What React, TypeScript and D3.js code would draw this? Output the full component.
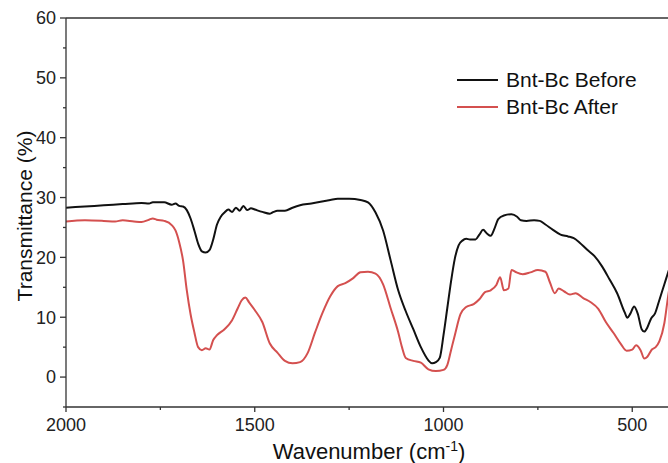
import { useRef, useEffect } from 'react';
import * as d3 from 'd3';

// FTIR spectra, transmittance (%)
const beforeWave = [2000, 1950, 1900, 1850, 1800, 1780, 1770, 1740, 1720, 1710, 1700, 1690, 1680, 1670, 1660, 1650, 1640, 1630, 1620, 1610, 1600, 1590, 1580, 1570, 1560, 1550, 1540, 1530, 1520, 1510, 1500, 1480, 1460, 1450, 1440, 1420, 1400, 1380, 1350, 1300, 1280, 1250, 1220, 1200, 1180, 1160, 1140, 1120, 1100, 1080, 1060, 1040, 1030, 1020, 1010, 1000, 990, 980, 970, 960, 950, 940, 930, 915, 905, 895, 885, 875, 865, 855, 840, 820, 805, 795, 780, 760, 745, 730, 710, 690, 670, 655, 640, 620, 600, 580, 560, 540, 520, 513, 505, 495, 485, 475, 468, 460, 450, 440, 430, 420, 410, 400];
const beforeT = [28.3, 28.5, 28.7, 28.9, 29.1, 29.0, 29.2, 29.2, 28.8, 29.0, 28.6, 28.5, 27.9, 26.5, 24.5, 22.3, 21.0, 20.8, 21.2, 23.0, 25.5, 26.8, 27.5, 28.0, 27.6, 28.3, 27.8, 28.6, 27.9, 28.2, 28.0, 27.6, 27.3, 27.6, 27.8, 27.8, 28.3, 28.7, 29.0, 29.6, 29.8, 29.8, 29.6, 29.2, 27.5, 24.5, 19.5, 14.5, 11.0, 8.0, 5.0, 2.8, 2.3, 2.5, 3.2, 7.0, 11.5, 16.0, 19.8, 22.0, 22.8, 23.1, 23.0, 23.0, 23.8, 24.6, 24.0, 23.6, 24.8, 26.4, 27.0, 27.2, 26.8, 26.2, 26.1, 26.2, 26.1, 25.5, 24.6, 23.8, 23.5, 23.2, 22.5, 21.3, 20.2, 18.5, 16.3, 14.0, 10.8, 9.9, 10.6, 11.8, 10.5, 8.0, 7.6, 8.3, 9.8, 10.6, 12.5, 14.5, 16.5, 18.5];

const afterWave = [2000, 1950, 1900, 1870, 1850, 1820, 1800, 1780, 1770, 1760, 1740, 1720, 1710, 1700, 1690, 1680, 1670, 1660, 1650, 1640, 1630, 1620, 1610, 1600, 1580, 1560, 1545, 1535, 1525, 1515, 1500, 1480, 1460, 1440, 1420, 1400, 1380, 1360, 1340, 1320, 1300, 1280, 1260, 1240, 1220, 1200, 1180, 1160, 1140, 1120, 1110, 1100, 1080, 1060, 1040, 1020, 1000, 990, 980, 970, 955, 940, 920, 905, 890, 875, 860, 850, 840, 828, 820, 810, 790, 770, 750, 730, 718, 705, 695, 680, 665, 650, 630, 610, 590, 570, 550, 530, 515, 500, 490, 478, 468, 460, 448, 438, 428, 415, 405, 400];
const afterT = [26.0, 26.2, 26.1, 26.0, 26.2, 26.0, 25.9, 26.3, 26.5, 26.3, 26.1, 25.4, 24.5, 22.5, 19.5, 14.5, 10.5, 7.5, 5.0, 4.5, 4.8, 4.6, 6.2, 7.0, 8.0, 9.5, 11.5, 12.8, 13.3, 12.5, 11.2, 9.2, 5.6, 4.1, 2.7, 2.3, 2.5, 4.0, 7.5, 10.8, 13.5, 15.2, 15.7, 16.5, 17.5, 17.6, 17.3, 15.5, 11.5, 7.5, 5.0, 3.2, 2.7, 2.4, 1.3, 1.0, 1.2, 2.0, 4.5, 7.0, 10.5, 11.7, 12.2, 13.0, 14.2, 14.5, 15.4, 16.7, 14.5, 14.8, 17.9, 17.6, 17.2, 17.5, 17.9, 17.6, 15.8, 14.0, 14.8, 14.3, 13.8, 14.0, 13.2, 12.5, 11.4, 9.2, 7.4, 5.5, 4.4, 4.6, 5.3, 4.5, 3.1, 3.4, 4.6, 5.0, 6.0, 9.0, 13.5, 15.5];

const seriesNames = ['Bnt-Bc Before', 'Bnt-Bc After'];
const seriesColors = ['#111111', '#d4504f'];
const xMajor = [2000, 1500, 1000, 500];
const xMinor = [1750, 1250, 750];
const yMajor = [0, 10, 20, 30, 40, 50, 60];
const yMinor = [-5, 5, 15, 25, 35, 45, 55];

const W = 668;
const H = 463;
const M = { top: 18, right: -2, bottom: 56, left: 66 };
const FONT = 'Liberation Sans, Arial, sans-serif';

export default function App() {
  const ref = useRef<SVGSVGElement>(null);

  useEffect(() => {
    if (!ref.current) return;
    const svg = d3.select(ref.current);
    svg.selectAll('*').remove();

    const x = d3.scaleLinear().domain([2000, 400]).range([M.left, W - M.right]);
    const y = d3.scaleLinear().domain([-5, 60]).range([H - M.bottom, M.top]);
    const y0 = y(-5);

    const series = [
      beforeWave.map((w, i) => [w, beforeT[i]] as [number, number]),
      afterWave.map((w, i) => [w, afterT[i]] as [number, number]),
    ];

    const line = d3.line<[number, number]>()
      .x((d) => x(d[0]))
      .y((d) => y(d[1]))
      .curve(d3.curveMonotoneX);

    const clipId = 'plot-clip';
    svg.append('clipPath').attr('id', clipId)
      .append('rect')
      .attr('x', M.left).attr('y', M.top)
      .attr('width', x(400) - M.left).attr('height', y0 - M.top);

    // red first so black sits on top where they meet
    [1, 0].forEach((k) => {
      svg.append('path')
        .datum(series[k])
        .attr('clip-path', `url(#${clipId})`)
        .attr('fill', 'none')
        .attr('stroke', seriesColors[k])
        .attr('stroke-width', 2)
        .attr('stroke-linejoin', 'round')
        .attr('d', line);
    });

    // Frame: left, bottom, top
    const frame = svg.append('g').attr('stroke', '#333').attr('stroke-width', 1.3);
    frame.append('line').attr('x1', M.left).attr('x2', M.left).attr('y1', M.top).attr('y2', y0);
    frame.append('line').attr('x1', M.left).attr('x2', W + 5).attr('y1', y0).attr('y2', y0);
    frame.append('line').attr('x1', M.left).attr('x2', W + 5).attr('y1', M.top).attr('y2', M.top);

    // x ticks
    xMajor.forEach((v) => {
      frame.append('line').attr('x1', x(v)).attr('x2', x(v)).attr('y1', y0).attr('y2', y0 + 5);
    });
    xMinor.forEach((v) => {
      frame.append('line').attr('x1', x(v)).attr('x2', x(v)).attr('y1', y0).attr('y2', y0 + 3);
    });
    svg.append('g')
      .selectAll('text')
      .data(xMajor)
      .join('text')
      .attr('x', (d) => x(d))
      .attr('y', y0 + 24)
      .attr('text-anchor', 'middle')
      .attr('font-family', FONT)
      .attr('font-size', 18)
      .attr('fill', '#222')
      .text((d) => d);

    // y ticks
    yMajor.forEach((v) => {
      frame.append('line').attr('x1', M.left - 6).attr('x2', M.left).attr('y1', y(v)).attr('y2', y(v));
    });
    yMinor.forEach((v) => {
      frame.append('line').attr('x1', M.left - 3).attr('x2', M.left).attr('y1', y(v)).attr('y2', y(v));
    });
    svg.append('g')
      .selectAll('text')
      .data(yMajor)
      .join('text')
      .attr('x', M.left - 10)
      .attr('y', (d) => y(d))
      .attr('dy', '0.35em')
      .attr('text-anchor', 'end')
      .attr('font-family', FONT)
      .attr('font-size', 18)
      .attr('fill', '#222')
      .text((d) => d);

    // Axis titles
    const xt = svg.append('text')
      .attr('x', 369)
      .attr('y', 459)
      .attr('text-anchor', 'middle')
      .attr('font-family', FONT)
      .attr('font-size', 22)
      .attr('fill', '#111');
    xt.append('tspan').text('Wavenumber (cm');
    xt.append('tspan').attr('font-size', 14).attr('dy', -8).text('-1');
    xt.append('tspan').attr('dy', 8).text(')');

    svg.append('text')
      .attr('transform', `translate(32,216) rotate(-90)`)
      .attr('text-anchor', 'middle')
      .attr('font-family', FONT)
      .attr('font-size', 21)
      .attr('fill', '#111')
      .text('Transmittance (%)');

    // Legend
    const lg = svg.append('g');
    seriesNames.forEach((name, i) => {
      const ly = 80 + i * 27;
      lg.append('line')
        .attr('x1', 457).attr('x2', 498).attr('y1', ly).attr('y2', ly)
        .attr('stroke', seriesColors[i]).attr('stroke-width', 2);
      lg.append('text')
        .attr('x', 506).attr('y', ly).attr('dy', '0.35em')
        .attr('font-family', FONT).attr('font-size', 21).attr('fill', '#111')
        .text(name);
    });
  }, []);

  return (
    <svg
      ref={ref}
      width={W}
      height={H}
      style={{ position: 'absolute', left: 0, top: 0, background: '#fff', display: 'block' }}
    />
  );
}
